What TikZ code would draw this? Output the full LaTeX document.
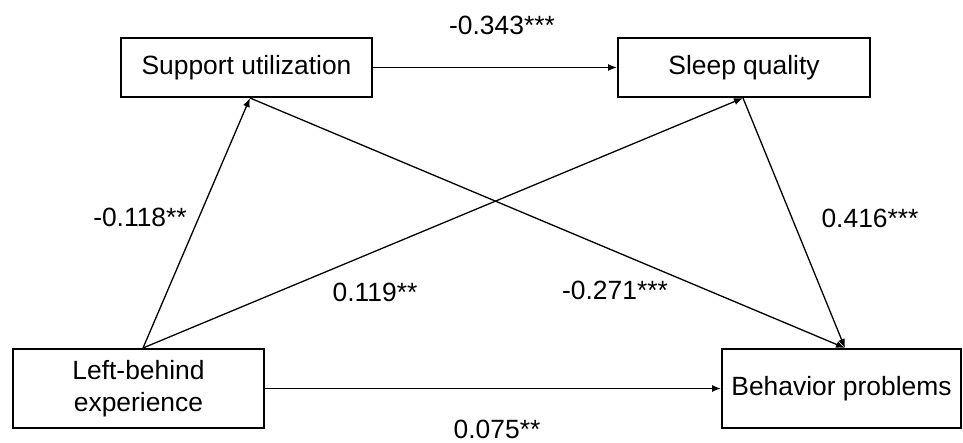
\documentclass[tikz,border=0pt]{standalone}
\usepackage{fontspec}
\setmainfont{Liberation Sans}
\usetikzlibrary{arrows.meta}
\begin{document}
\begin{tikzpicture}[x=1pt,y=-1pt,
  varbox/.style={draw=black, line width=2pt, inner sep=0pt, align=center,
    font=\fontsize{26.4}{32}\selectfont},
  coef/.style={inner sep=0pt, font=\fontsize{26.4}{32}\selectfont},
  path/.style={line width=1.3pt, -{Latex[length=9pt,width=7pt]}}]
\useasboundingbox (0,0) rectangle (963,443);
\fill[white] (0,0) rectangle (963,443);
\node[varbox, minimum width=251pt, minimum height=59pt] (sup) at (246.5,67.5) {Support utilization};
\node[varbox, minimum width=252pt, minimum height=59pt] (slp) at (744,67.5) {Sleep quality};
\node[varbox, minimum width=251pt, minimum height=79pt] (lbe) at (138.5,388.5) {Left-behind\\experience};
\node[varbox, minimum width=239pt, minimum height=79pt] (beh) at (841.5,388.5) {Behavior problems};
\draw[path] (sup.east) -- (slp.west);
\draw[path] ([xshift=4.5pt]lbe.north) -- ([xshift=3.5pt]sup.south);
\draw[path] ([xshift=4.5pt]lbe.north) -- ([xshift=-1pt]slp.south);
\draw[path] ([xshift=3.5pt]sup.south) -- ([xshift=3.5pt]beh.north);
\draw[path] ([xshift=-1pt]slp.south) -- ([xshift=3.5pt]beh.north);
\draw[path] (lbe.east) -- (beh.west);
\node[coef] (c343) at (502,25) {-0.343***};
\node[coef] (c118) at (140,217) {-0.118**};
\node[coef] (c119) at (375,292) {0.119**};
\node[coef] (c271) at (615,290) {-0.271***};
\node[coef] (c416) at (870,218) {0.416***};
\node[coef] (c075) at (497,429.5) {0.075**};
\end{tikzpicture}
\end{document}
